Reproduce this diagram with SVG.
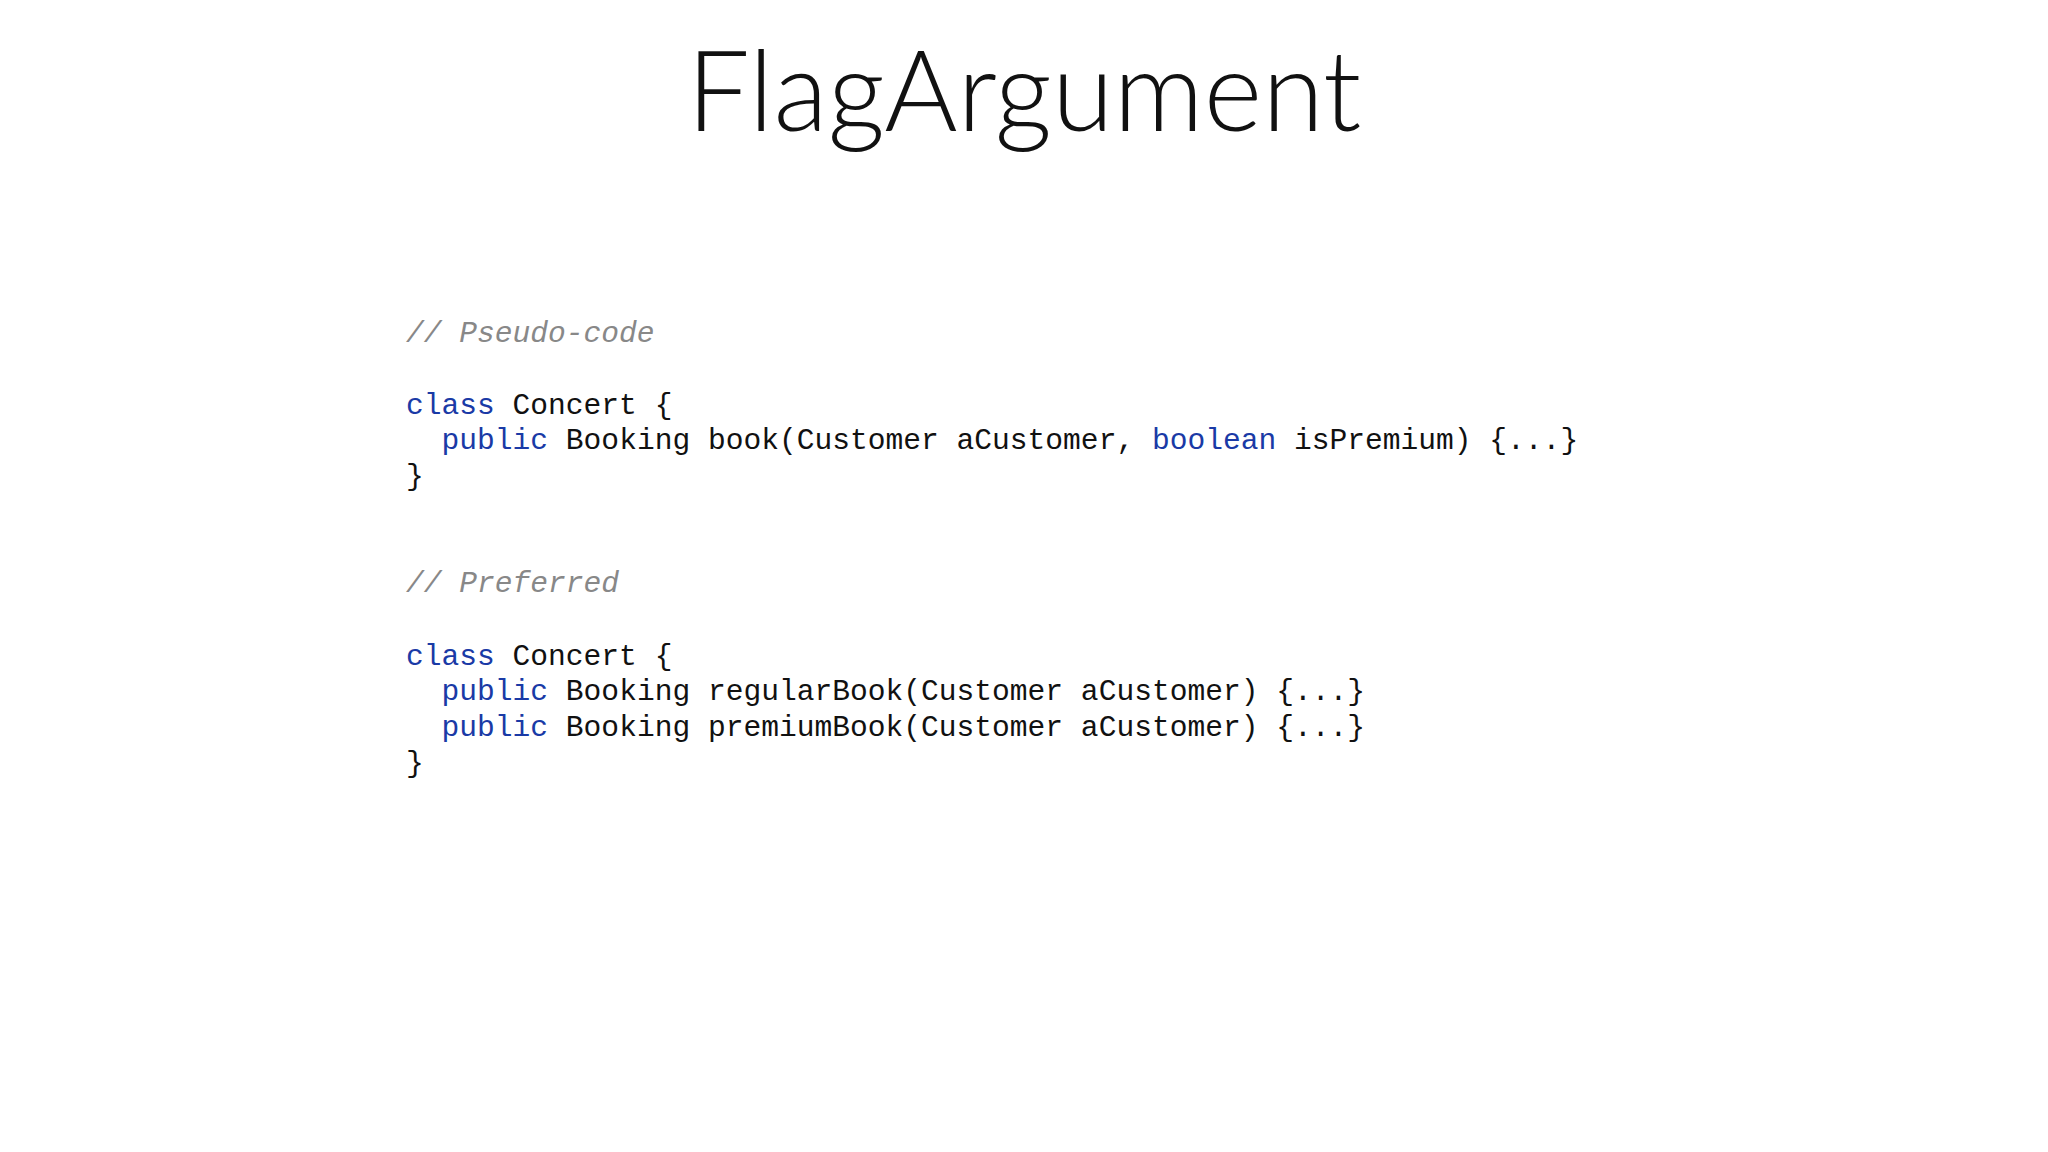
<svg xmlns="http://www.w3.org/2000/svg" width="2048" height="1152" viewBox="0 0 2048 1152">
<style>
.t{font-family:Lato,"Open Sans",sans-serif;font-weight:300;font-size:112px;fill:#111}
.c{font-family:"Liberation Mono",monospace;font-size:29.6px;fill:#111;white-space:pre}
.k{fill:#1a3aa6}
.m{fill:#888;font-style:italic}
</style>
<rect width="2048" height="1152" fill="#fff"/>
<g id="title"><text class="t" x="1024" y="131" text-anchor="middle">FlagArgument</text></g>
<g id="code1" xml:space="preserve">
<text class="c m" x="406" y="342">// Pseudo-code</text>
<text class="c" x="406" y="414"><tspan class="k">class</tspan> Concert {</text>
<text class="c" x="406" y="449">  <tspan class="k">public</tspan> Booking book(Customer aCustomer, <tspan class="k">boolean</tspan> isPremium) {...}</text>
<text class="c" x="406" y="485">}</text>
</g>
<g id="code2" xml:space="preserve">
<text class="c m" x="406" y="592">// Preferred</text>
<text class="c" x="406" y="665"><tspan class="k">class</tspan> Concert {</text>
<text class="c" x="406" y="700">  <tspan class="k">public</tspan> Booking regularBook(Customer aCustomer) {...}</text>
<text class="c" x="406" y="736">  <tspan class="k">public</tspan> Booking premiumBook(Customer aCustomer) {...}</text>
<text class="c" x="406" y="772">}</text>
</g>
<g id="connectors"/>
</svg>
